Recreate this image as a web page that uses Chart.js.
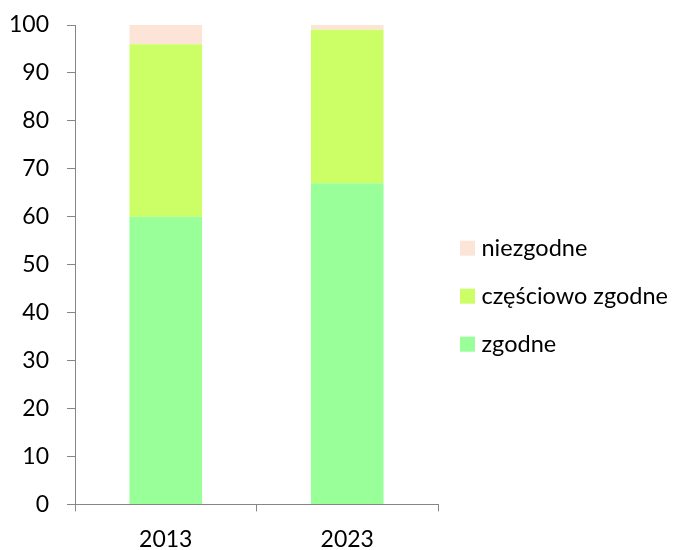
<!DOCTYPE html>
<html>
<head>
<meta charset="utf-8">
<script src="https://cdn.jsdelivr.net/npm/chart.js@4/dist/chart.umd.min.js"></script>
<style>
  html, body { margin: 0; padding: 0; background: #fff; }
  #wrap { width: 679px; height: 550px; }
</style>
</head>
<body>
<div id="wrap"><canvas id="c" width="679" height="550"></canvas></div>
<script>
const categories = ['2013', '2023'];
const zgodne = [60, 67];
const czesciowoZgodne = [36, 32];
const niezgodne = [4, 1];
const yTicks = [0, 10, 20, 30, 40, 50, 60, 70, 80, 90, 100];

const axisColor = '#868686';
const font = { family: 'Lato', size: 23 };

// Legend drawn on the right (reversed order, like the reference)
const sideLegend = {
  id: 'sideLegend',
  afterDraw(chart) {
    const ctx = chart.ctx;
    const ca = chart.chartArea;
    const items = chart.data.datasets.map((d) => ({ text: d.label, color: d.backgroundColor })).reverse();
    const x = ca.right + 22;
    const midY = (ca.top + ca.bottom) / 2 + 31.5;
    const step = 48;
    ctx.save();
    ctx.font = '23.5px Lato';
    ctx.textBaseline = 'middle';
    ctx.textAlign = 'left';
    items.forEach((it, i) => {
      const cy = midY + (i - 1) * step;
      ctx.fillStyle = it.color;
      ctx.fillRect(x, cy - 7.5, 15, 15);
      ctx.fillStyle = '#000';
      ctx.fillText(it.text, x + 21.5, cy);
    });
    ctx.restore();
  }
};

new Chart(document.getElementById('c'), {
  type: 'bar',
  data: {
    labels: categories,
    datasets: [
      { label: 'zgodne', data: zgodne, backgroundColor: '#99FF99' },
      { label: 'częściowo zgodne', data: czesciowoZgodne, backgroundColor: '#CCFF66' },
      { label: 'niezgodne', data: niezgodne, backgroundColor: '#FCE4D6' }
    ]
  },
  plugins: [sideLegend],
  options: {
    responsive: false,
    animation: false,
    layout: { padding: { left: -9, top: 25, right: 241, bottom: -17 } },
    datasets: { bar: { barPercentage: 0.4, categoryPercentage: 1.0 } },
    plugins: {
      tooltip: { enabled: false },
      legend: { display: false }
    },
    scales: {
      x: {
        stacked: true,
        grid: { display: true, drawOnChartArea: false, drawTicks: true, tickLength: 7, color: axisColor, offset: true },
        border: { display: true, color: axisColor, width: 1 },
        ticks: { font: font, color: '#000', padding: 14 }
      },
      y: {
        stacked: true,
        min: 0,
        max: 100,
        afterBuildTicks: (s) => { s.ticks = yTicks.map(v => ({ value: v })); },
        afterFit: (s) => { s.paddingTop = 14; s.paddingBottom = 14; },
        grid: { display: true, drawOnChartArea: false, drawTicks: true, tickLength: 8, color: axisColor },
        border: { display: true, color: axisColor, width: 1 },
        ticks: { font: font, color: '#000', padding: 18 }
      }
    }
  }
});
</script>
</body>
</html>
